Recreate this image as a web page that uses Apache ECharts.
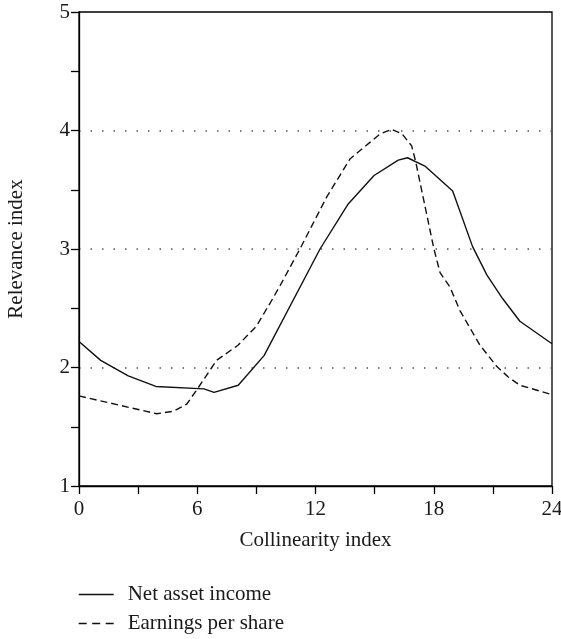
<!DOCTYPE html>
<html>
<head>
<meta charset="utf-8">
<script src="https://cdn.jsdelivr.net/npm/echarts@6/dist/echarts.min.js"></script>
<style>
html,body{margin:0;padding:0;background:#fff;}
#chart{width:561px;height:639px;}
</style>
</head>
<body>
<div id="chart"></div>
<script>
// Net asset income (solid)
const netX = [0, 1.1, 2.5, 3.9, 6.34, 6.85, 8.08, 9.39, 12.23, 13.66, 14.97, 16.2, 16.67, 17.55, 18.96, 19.97, 20.7, 21.5, 22.37, 24];
const netY = [2.22, 2.06, 1.93, 1.84, 1.82, 1.79, 1.85, 2.10, 3.00, 3.38, 3.62, 3.75, 3.77, 3.70, 3.49, 3.02, 2.78, 2.58, 2.39, 2.20];
// Earnings per share (dashed)
const epsX = [0, 3.94, 4.78, 5.46, 5.97, 6.98, 8.08, 9.01, 9.86, 10.2, 11.21, 12.57, 13.75, 14.76, 15.27, 15.86, 16.4, 16.88, 17.08, 18.01, 18.32, 18.82, 19.33, 20.34, 21.19, 21.78, 22.37, 23.2, 24];
const epsY = [1.76, 1.61, 1.63, 1.69, 1.81, 2.06, 2.19, 2.35, 2.59, 2.69, 3.00, 3.44, 3.76, 3.90, 3.97, 4.01, 3.97, 3.87, 3.74, 3.00, 2.80, 2.68, 2.48, 2.19, 2.01, 1.92, 1.85, 1.81, 1.77];
const seriesNames = ['Net asset income', 'Earnings per share'];
const xTickLabels = [0, 6, 12, 18, 24];
const yTickLabels = [1, 2, 3, 4, 5];

const FONT = '"Liberation Serif", "DejaVu Serif", serif';
const FS = 21;
const TXT = '#1a1a1a';
const pairs = (xs, ys) => xs.map((x, i) => [x, ys[i]]);

const chart = echarts.init(document.getElementById('chart'), null, {renderer: 'canvas'});
chart.setOption({
  animation: false,
  backgroundColor: '#fff',
  grid: {left: 79, right: 9, top: 12, bottom: 153, show: true, borderColor: '#000', borderWidth: 1.3, backgroundColor: 'transparent', containLabel: false, outerBoundsMode: 'none'},
  legend: {
    orient: 'vertical', left: 78, top: 584, padding: 0, itemWidth: 35, itemHeight: 22, itemGap: 8,
    itemStyle: {opacity: 0},
    textStyle: {fontFamily: FONT, fontSize: FS, color: TXT, padding: [0, 0, 0, 9]},
    data: [
      {name: seriesNames[0], lineStyle: {width: 1.4, type: 'solid'}},
      {name: seriesNames[1], lineStyle: {width: 1.4, type: [8, 5.5]}}
    ]
  },
  xAxis: {
    type: 'value', min: 0, max: 24, interval: 3,
    name: 'Collinearity index', nameLocation: 'middle', nameGap: 44,
    nameTextStyle: {fontFamily: FONT, fontSize: FS, color: TXT},
    axisLine: {lineStyle: {color: '#000', width: 1.3}},
    axisTick: {inside: false, length: 8, lineStyle: {color: '#000', width: 1.3}},
    axisLabel: {
      margin: 13, fontFamily: FONT, fontSize: FS, color: TXT,
      formatter: v => xTickLabels.indexOf(v) >= 0 ? String(v) : ''
    },
    splitLine: {show: false}
  },
  yAxis: [{
    type: 'value', min: 1, max: 5, interval: 0.5,
    name: 'Relevance index', nameLocation: 'middle', nameGap: 52,
    nameTextStyle: {fontFamily: FONT, fontSize: FS, color: TXT},
    axisLine: {lineStyle: {color: '#000', width: 1.3}},
    axisTick: {inside: false, length: 8, lineStyle: {color: '#000', width: 1.3}},
    axisLabel: {
      margin: 9, fontFamily: FONT, fontSize: FS, color: TXT,
      formatter: v => yTickLabels.indexOf(v) >= 0 ? String(v) : ''
    },
    splitLine: {show: false}
  }, {
    type: 'value', min: 1, max: 5, interval: 1, position: 'left',
    axisLine: {show: false}, axisTick: {show: false}, axisLabel: {show: false},
    splitLine: {show: true, showMinLine: false, showMaxLine: false, lineStyle: {color: '#555', width: 1.5, type: [1.5, 10]}}
  }],
  series: [{
    name: seriesNames[0], type: 'line', data: pairs(netX, netY), yAxisIndex: 0,
    symbol: 'none', smooth: false,
    lineStyle: {color: '#111', width: 1.4, type: 'solid'},
    itemStyle: {color: '#111'}
  }, {
    name: seriesNames[1], type: 'line', data: pairs(epsX, epsY), yAxisIndex: 0,
    symbol: 'none', smooth: false,
    lineStyle: {color: '#111', width: 1.4, type: [7, 4]},
    itemStyle: {color: '#111'}
  }]
});
</script>
</body>
</html>
